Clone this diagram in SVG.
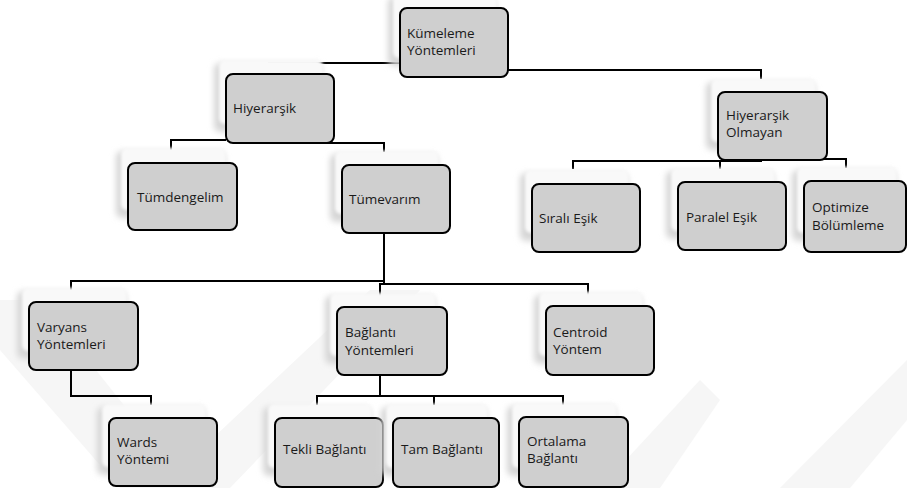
<svg xmlns="http://www.w3.org/2000/svg" width="907" height="488" viewBox="0 0 907 488">
  <defs>
    <filter id="blur3" x="-20%" y="-20%" width="140%" height="140%">
      <feGaussianBlur stdDeviation="3"/>
    </filter>
    <filter id="blur2" x="-20%" y="-20%" width="140%" height="140%">
      <feGaussianBlur stdDeviation="1.5"/>
    </filter>
  </defs>
  <style>
    .sh { fill: #d6d6d6; filter: url(#blur3); }
    .shw { fill: #f9f9f9; filter: url(#blur2); }
    .box { fill: #cfcfcf; stroke: #000; stroke-width: 2; }
    .lbl { font-family: "Open Sans", "Liberation Sans", sans-serif; font-size: 13.5px; fill: #1a1a1a; }
    .wm { fill: #f6f6f6; }
    .con { fill: none; stroke: #000; stroke-width: 2; }
  </style>
  <rect width="907" height="488" fill="#fff"/>
  <g id="watermark">
    <polygon class="wm" points="0,300 40,300 190,488 120,488 0,350"/>
    <polygon class="wm" points="160,488 230,488 420,290 370,290"/>
    <polygon class="wm" points="600,488 660,488 720,400 700,380"/>
    <polygon class="wm" points="780,488 850,488 907,420 907,360"/>
  </g>
  <g id="connectors">
    <path class="con" d="M268,63 H400"/>
    <path class="con" d="M508,70 H761 V79"/>
    <path class="con" d="M171,150 V140 H226"/>
    <path class="con" d="M267,143 H384 V152"/>
    <path class="con" d="M573,169 V161 H761 V159 H846 V168"/>
    <path class="con" d="M720,161 V169"/>
    <path class="con" d="M384,233 V284"/>
    <path class="con" d="M71,290 V281 H384"/>
    <path class="con" d="M380,297 V284 H588 V297"/>
    <path class="con" d="M71,370 V396 H151 V405"/>
    <path class="con" d="M380,375 V396"/>
    <path class="con" d="M317,405 V396 H563 V405"/>
    <path class="con" d="M434,396 V405"/>
  </g>
  <g id="n-kumeleme">
    <rect class="sh" x="388" y="-3" width="108" height="69" rx="6"/>
    <rect class="shw" x="393" y="-6" width="104" height="64" rx="6"/>
    <rect class="box" x="400" y="8" width="108" height="69" rx="7"/>
    <text class="lbl" x="407" y="38">Kümeleme</text>
    <text class="lbl" x="407" y="55">Yöntemleri</text>
  </g>
  <g id="n-hiyerarsik">
    <rect class="sh" x="214" y="63" width="108" height="69" rx="6"/>
    <rect class="shw" x="219" y="60" width="104" height="64" rx="6"/>
    <rect class="box" x="226" y="74" width="108" height="69" rx="7"/>
    <text class="lbl" x="233" y="113">Hiyerarşik</text>
  </g>
  <g id="n-olmayan">
    <rect class="sh" x="706" y="82" width="109" height="68" rx="6"/>
    <rect class="shw" x="711" y="79" width="105" height="63" rx="6"/>
    <rect class="box" x="718" y="92" width="109" height="68" rx="7"/>
    <text class="lbl" x="726" y="120">Hiyerarşik</text>
    <text class="lbl" x="726" y="137">Olmayan</text>
  </g>
  <g id="n-tumdengelim">
    <rect class="sh" x="116" y="151" width="109" height="67" rx="6"/>
    <rect class="shw" x="121" y="148" width="105" height="62" rx="6"/>
    <rect class="box" x="128" y="163" width="109" height="67" rx="7"/>
    <text class="lbl" x="137" y="202">Tümdengelim</text>
  </g>
  <g id="n-tumevarim">
    <rect class="sh" x="330" y="154" width="108" height="68" rx="6"/>
    <rect class="shw" x="335" y="151" width="104" height="63" rx="6"/>
    <rect class="box" x="342" y="165" width="108" height="68" rx="7"/>
    <text class="lbl" x="349" y="204">Tümevarım</text>
  </g>
  <g id="n-sirali">
    <rect class="sh" x="520" y="173" width="108" height="68" rx="6"/>
    <rect class="shw" x="525" y="170" width="104" height="63" rx="6"/>
    <rect class="box" x="532" y="184" width="108" height="68" rx="7"/>
    <text class="lbl" x="539" y="223">Sıralı Eşik</text>
  </g>
  <g id="n-paralel">
    <rect class="sh" x="666" y="171" width="108" height="68" rx="6"/>
    <rect class="shw" x="671" y="168" width="104" height="63" rx="6"/>
    <rect class="box" x="678" y="182" width="108" height="68" rx="7"/>
    <text class="lbl" x="686" y="222">Paralel Eşik</text>
  </g>
  <g id="n-optimize">
    <rect class="sh" x="792" y="170" width="104" height="71" rx="6"/>
    <rect class="shw" x="797" y="167" width="100" height="66" rx="6"/>
    <rect class="box" x="804" y="181" width="102" height="71" rx="7"/>
    <text class="lbl" x="812" y="212">Optimize</text>
    <text class="lbl" x="812" y="230">Bölümleme</text>
  </g>
  <g id="n-varyans">
    <rect class="sh" x="17" y="291" width="109" height="68" rx="6"/>
    <rect class="shw" x="22" y="288" width="105" height="63" rx="6"/>
    <rect class="box" x="29" y="302" width="109" height="68" rx="7"/>
    <text class="lbl" x="37" y="332">Varyans</text>
    <text class="lbl" x="37" y="349">Yöntemleri</text>
  </g>
  <g id="n-baglanti">
    <rect class="sh" x="325" y="296" width="110" height="68" rx="6"/>
    <rect class="shw" x="330" y="293" width="106" height="63" rx="6"/>
    <rect class="box" x="337" y="307" width="110" height="68" rx="7"/>
    <text class="lbl" x="345" y="337">Bağlantı</text>
    <text class="lbl" x="345" y="355">Yöntemleri</text>
  </g>
  <g id="n-centroid">
    <rect class="sh" x="534" y="295" width="108" height="69" rx="6"/>
    <rect class="shw" x="539" y="292" width="104" height="64" rx="6"/>
    <rect class="box" x="546" y="306" width="108" height="69" rx="7"/>
    <text class="lbl" x="553" y="337">Centroid</text>
    <text class="lbl" x="553" y="354">Yöntem</text>
  </g>
  <g id="n-wards">
    <rect class="sh" x="97" y="407" width="108" height="68" rx="6"/>
    <rect class="shw" x="102" y="404" width="104" height="63" rx="6"/>
    <rect class="box" x="109" y="418" width="108" height="68" rx="7"/>
    <text class="lbl" x="117" y="447">Wards</text>
    <text class="lbl" x="117" y="464">Yöntemi</text>
  </g>
  <g id="n-tekli">
    <rect class="sh" x="263" y="407" width="108" height="69" rx="6"/>
    <rect class="shw" x="268" y="404" width="104" height="64" rx="6"/>
    <rect class="box" x="275" y="418" width="108" height="69" rx="7"/>
    <text class="lbl" x="283" y="454">Tekli Bağlantı</text>
  </g>
  <g id="n-tam">
    <rect class="sh" x="381" y="407" width="106" height="69" rx="6"/>
    <rect class="shw" x="386" y="404" width="102" height="64" rx="6"/>
    <rect class="box" x="393" y="418" width="106" height="69" rx="7"/>
    <text class="lbl" x="401" y="454">Tam Bağlantı</text>
  </g>
  <g id="n-ortalama">
    <rect class="sh" x="507" y="406" width="109" height="70" rx="6"/>
    <rect class="shw" x="512" y="403" width="105" height="65" rx="6"/>
    <rect class="box" x="519" y="417" width="109" height="70" rx="7"/>
    <text class="lbl" x="527" y="446">Ortalama</text>
    <text class="lbl" x="527" y="463">Bağlantı</text>
  </g>
</svg>
